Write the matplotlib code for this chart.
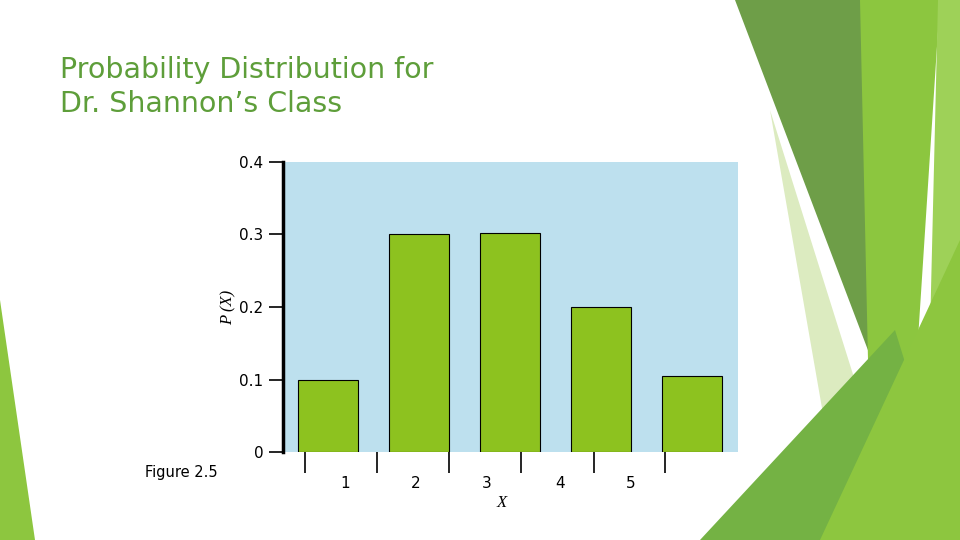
import matplotlib
matplotlib.use("Agg")
import matplotlib.pyplot as plt
from matplotlib.patches import Polygon

x_vals = [1, 2, 3, 4, 5]
probs = [0.1, 0.3, 0.302, 0.2, 0.105]
x_labels = ["1", "2", "3", "4", "5"]
label_pos = [1.187, 1.967, 2.747, 3.549, 4.33]
edge_ticks = [0.747, 1.538, 2.33, 3.12, 3.92, 4.70]
y_ticks = [0, 0.1, 0.2, 0.3, 0.4]

W, H = 960, 540
fig = plt.figure(figsize=(9.6, 5.4), dpi=100)

def px(pts):
    return [(x / W, 1 - y / H) for x, y in pts]

shapes = [
    ([(735, 0), (865, 0), (885, 395)], "#6E9E48"),
    ([(860, 0), (940, 0), (905, 540), (872, 540)], "#8CC63F"),
    ([(938, 0), (960, 0), (960, 540), (925, 540)], "#9ED158"),
    ([(770, 110), (845, 540), (905, 540)], "#DCEBC0"),
    ([(700, 540), (895, 330), (960, 540)], "#74B244"),
    ([(820, 540), (960, 240), (960, 540)], "#8DC63F"),
    ([(0, 300), (35, 540), (0, 540)], "#8DC63F"),
]
for pts, c in shapes:
    fig.patches.append(Polygon(px(pts), closed=True, transform=fig.transFigure,
                               facecolor=c, edgecolor="none", zorder=0))

fig.text(60 / W, 1 - 56 / H, "Probability Distribution for\nDr. Shannon\u2019s Class",
         fontsize=20.5, color="#5E9E3A", va="top", ha="left", linespacing=1.25)

ax = fig.add_axes([283 / W, 88 / H, 455 / W, 290 / H])
ax.set_facecolor("#BDE0EE")
ax.bar(x_vals, probs, width=0.65, color="#8DC21F", edgecolor="black", linewidth=0.8, zorder=3)
ax.set_xlim(0.505, 5.505)
ax.set_ylim(0, 0.4)
for s in ["top", "right", "bottom"]:
    ax.spines[s].set_visible(False)
ax.spines["left"].set_linewidth(2.5)
ax.set_yticks(y_ticks)
ax.set_yticklabels(["0", "0.1", "0.2", "0.3", "0.4"], fontsize=11)
ax.tick_params(axis="y", direction="out", length=10, width=1.2, pad=4)
ax.set_xticks(edge_ticks)
ax.set_xticklabels([])
ax.tick_params(axis="x", direction="out", length=15, width=1.2)
for lp, lab in zip(label_pos, x_labels):
    ax.text(lp, -0.043, lab, ha="center", va="center", fontsize=11, clip_on=False)
ax.text(2.905, -0.07, "X", ha="center", va="center", fontsize=12,
        family="Liberation Serif", style="italic", clip_on=False)
ax.set_ylabel("P (X)", fontsize=12, family="Liberation Serif", style="italic", labelpad=2)
fig.text(145 / W, 1 - 473 / H, "Figure 2.5", fontsize=10.5, ha="left", va="center")

fig.savefig("out.png", dpi=100)
